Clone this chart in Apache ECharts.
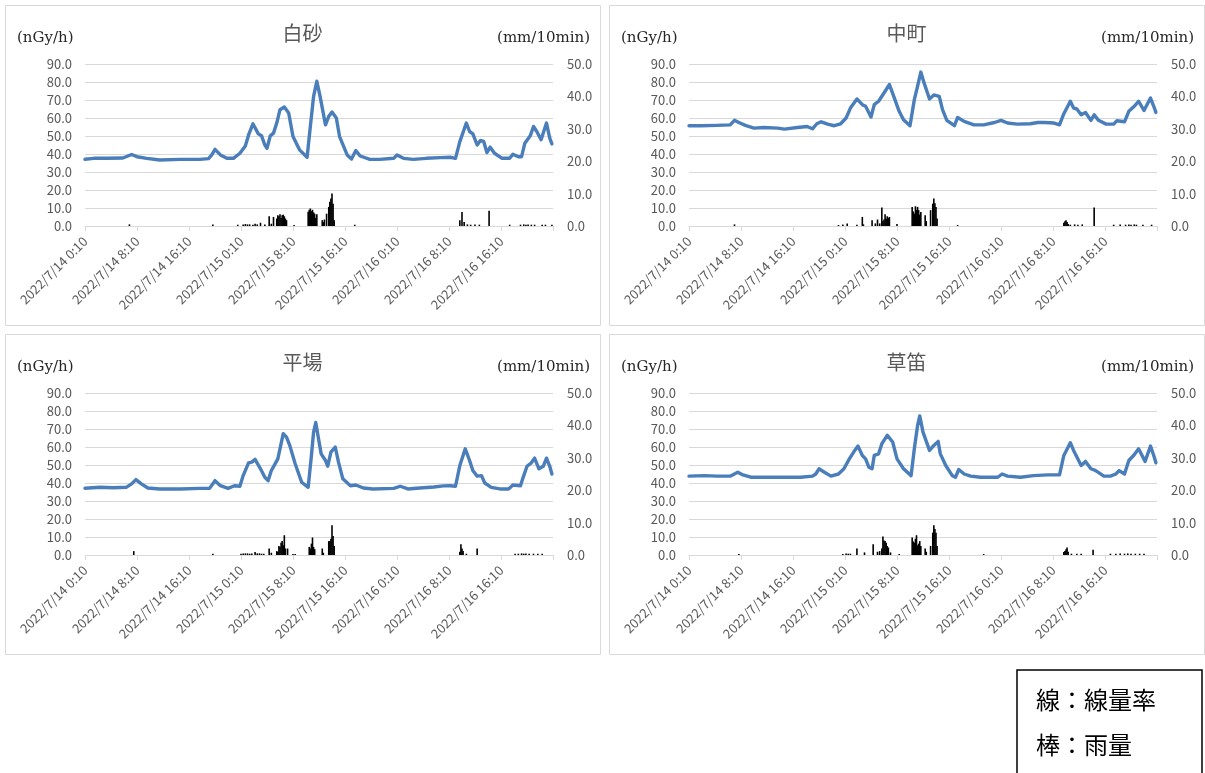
<!DOCTYPE html>
<html>
<head>
<meta charset="utf-8">
<script src="https://cdn.jsdelivr.net/npm/echarts@6.0.0/dist/echarts.min.js"></script>
<style>
  html, body { margin: 0; padding: 0; background: #fff; }
  #chart { width: 1205px; height: 773px; }
</style>
</head>
<body>
<div id="chart"></div>
<script>
// x positions are 10-minute steps counted from 2022/7/14 0:10 (432 steps = 3 days)
const STEP_COUNT = 432;
const TICK_STEP = 48; // 8 hours
const tickLabels = [
  '2022/7/14 0:10', '2022/7/14 8:10', '2022/7/14 16:10',
  '2022/7/15 0:10', '2022/7/15 8:10', '2022/7/15 16:10',
  '2022/7/16 0:10', '2022/7/16 8:10', '2022/7/16 16:10'
];
const stationNames = ['白砂', '中町', '平場', '草笛'];

// 線量率 (nGy/h): [step, value]
const shirasunaDose = [[0,37.1],[8,37.6],[20,37.6],[35,37.8],[43,39.7],[48,38.5],[57,37.6],[69,36.7],[88,37.0],[106,37.0],[114,37.4],[117,39.5],[120,42.6],[125,39.5],[131,37.6],[137,37.6],[143,40.4],[148,44.5],[151,50.6],[155,56.8],[160,51.2],[163,50.1],[166,45.0],[168,43.2],[171,50.1],[174,51.6],[177,57.2],[180,64.6],[184,66.1],[188,62.8],[192,49.7],[198,42.3],[205,38.2],[208,55.3],[211,72.0],[214,80.4],[217,72.0],[222,56.2],[225,60.9],[228,63.3],[232,60.0],[235,49.7],[242,39.5],[246,37.2],[250,41.9],[254,38.9],[263,37.0],[272,37.0],[285,37.6],[288,39.5],[294,37.6],[303,37.0],[315,37.6],[328,38.0],[337,38.2],[342,37.6],[343,38.5],[346,46.9],[352,57.2],[355,52.5],[358,51.2],[362,45.0],[365,47.5],[368,47.0],[371,40.8],[374,43.8],[378,40.4],[385,37.6],[392,37.6],[395,39.9],[400,38.5],[403,38.5],[406,46.0],[411,50.1],[414,55.3],[417,52.5],[421,47.9],[426,57.2],[429,48.8],[431,45.6]];
const nakamachiDose = [[0,55.7],[11,55.7],[26,55.9],[38,56.2],[42,58.7],[46,57.5],[52,55.9],[60,54.4],[69,54.7],[82,54.4],[88,53.8],[100,54.7],[109,55.3],[114,54.0],[118,56.8],[122,57.9],[128,56.6],[134,55.7],[140,56.8],[145,60.0],[149,65.5],[155,70.6],[160,67.4],[163,66.5],[168,60.5],[171,67.4],[175,69.3],[180,73.9],[185,78.6],[189,72.0],[194,63.7],[198,59.0],[204,55.7],[208,70.2],[211,77.7],[214,85.5],[217,79.5],[222,70.6],[226,72.8],[231,72.0],[234,64.6],[238,58.7],[245,55.7],[248,60.3],[254,58.1],[263,56.2],[272,56.2],[282,57.5],[288,58.7],[294,57.2],[303,56.6],[315,56.8],[322,57.5],[328,57.5],[337,57.2],[342,56.2],[346,62.4],[352,69.3],[355,65.5],[358,65.0],[362,61.8],[366,63.1],[371,58.7],[374,61.8],[378,58.7],[385,56.6],[392,56.6],[395,58.5],[402,57.9],[406,63.7],[411,66.5],[415,69.3],[420,64.2],[426,71.1],[429,66.5],[431,63.1]];
const hirabaDose = [[0,37.1],[14,37.6],[26,37.4],[38,37.6],[43,39.5],[47,41.9],[52,39.5],[58,37.2],[69,36.7],[88,36.7],[106,37.0],[115,37.0],[120,41.3],[125,38.5],[132,37.0],[138,38.5],[143,38.2],[146,44.1],[151,51.2],[154,51.6],[157,53.1],[162,47.9],[166,43.2],[169,41.3],[172,46.9],[178,53.4],[183,67.4],[186,65.5],[189,60.9],[194,50.7],[200,40.4],[206,37.6],[209,55.3],[211,68.3],[213,73.6],[215,66.5],[218,56.2],[222,52.5],[224,49.3],[227,57.2],[231,60.0],[234,51.6],[238,42.3],[245,38.5],[250,38.9],[257,37.2],[266,36.7],[285,37.0],[291,38.2],[298,36.7],[309,37.2],[322,37.8],[331,38.4],[337,38.5],[342,38.2],[346,49.7],[351,59.0],[355,52.5],[358,46.9],[362,43.8],[366,44.1],[369,40.0],[375,37.6],[383,36.7],[391,36.7],[395,38.9],[402,38.5],[404,42.3],[408,49.3],[412,51.2],[415,53.8],[419,47.9],[423,49.3],[426,53.8],[429,49.3],[431,45.0]];
const kusabueDose = [[0,43.8],[14,44.1],[26,43.8],[38,43.8],[45,46.0],[49,44.7],[57,43.2],[69,43.2],[88,43.2],[103,43.2],[114,43.8],[117,45.0],[120,47.9],[125,46.0],[131,43.8],[138,45.0],[143,47.9],[148,53.4],[152,57.2],[156,60.5],[160,55.3],[163,53.4],[166,48.8],[169,47.9],[171,55.3],[175,56.2],[178,61.8],[183,66.5],[188,62.8],[192,53.4],[198,47.9],[205,44.1],[208,59.0],[211,72.0],[213,77.3],[216,68.3],[222,58.1],[226,60.9],[230,63.1],[232,56.2],[237,49.7],[243,44.1],[246,43.2],[249,47.5],[254,45.0],[260,43.8],[269,43.2],[285,43.2],[289,45.0],[294,43.8],[306,43.2],[318,44.1],[331,44.5],[342,44.5],[346,55.3],[352,62.4],[355,58.1],[362,49.7],[366,52.0],[371,47.9],[375,47.0],[383,43.8],[389,43.8],[394,45.0],[397,46.9],[402,45.0],[406,52.5],[411,55.7],[415,59.0],[421,52.0],[426,60.5],[429,55.3],[431,51.2]];

// 雨量 (mm/10min): [step, value], steps without rain omitted
const shirasunaRain = [[41,0.5],[118,0.5],[141,0.4],[146,0.5],[148,0.6],[150,0.5],[152,0.5],[155,0.4],[157,0.7],[159,0.5],[162,1.0],[166,0.5],[170,3.0],[172,0.7],[174,2.8],[177,2.3],[178,3.3],[179,3.0],[180,3.6],[181,2.5],[182,3.3],[183,3.5],[184,3.0],[185,2.3],[186,1.8],[193,0.3],[206,4.4],[207,5.0],[208,5.4],[209,4.6],[210,5.0],[211,4.2],[212,3.8],[213,2.5],[214,3.6],[219,1.8],[220,1.2],[221,2.0],[223,3.8],[225,5.9],[226,7.5],[227,8.5],[228,10.0],[229,6.9],[230,1.8],[249,0.4],[346,1.8],[348,4.3],[350,1.2],[353,0.5],[356,0.4],[360,0.5],[364,0.4],[373,4.7],[392,0.4],[402,0.4],[405,0.5],[407,0.4],[409,0.5],[412,0.4],[415,0.4],[422,0.4],[425,0.4],[431,0.4]];
const nakamachiRain = [[42,0.5],[138,0.3],[142,0.5],[146,0.8],[155,0.4],[160,2.8],[161,0.5],[169,1.8],[172,0.8],[174,2.0],[176,0.8],[178,5.7],[179,1.5],[180,2.0],[181,3.6],[182,2.2],[183,3.0],[184,2.5],[185,2.8],[192,0.6],[206,5.9],[207,4.5],[208,3.8],[209,6.1],[210,5.0],[211,5.9],[212,4.9],[213,3.5],[214,4.3],[218,3.3],[219,1.5],[223,4.9],[225,6.9],[226,8.5],[227,7.0],[228,5.9],[229,2.3],[248,0.3],[346,1.0],[347,1.5],[348,1.8],[349,1.2],[350,0.6],[352,0.4],[356,0.5],[359,0.4],[363,0.5],[374,5.7],[392,0.4],[398,0.5],[403,0.4],[406,0.5],[408,0.4],[411,0.5],[413,0.4],[419,0.4],[427,0.4]];
const hirabaRain = [[45,1.2],[118,0.4],[144,0.4],[146,0.5],[148,0.5],[150,0.5],[152,0.4],[154,0.5],[157,0.9],[159,0.5],[161,0.5],[163,0.4],[165,0.4],[170,2.0],[172,0.7],[177,1.2],[178,1.0],[179,2.8],[180,2.5],[181,3.8],[182,4.3],[183,3.0],[184,6.1],[185,2.0],[187,2.0],[192,0.3],[194,0.3],[207,2.5],[208,2.0],[209,3.5],[210,5.4],[211,2.5],[212,1.8],[219,2.0],[220,0.7],[225,4.3],[226,4.3],[227,5.0],[228,9.2],[229,5.9],[230,2.8],[346,1.0],[347,3.3],[348,2.0],[349,1.2],[352,0.4],[362,2.0],[397,0.4],[400,0.4],[403,0.5],[405,0.4],[407,0.5],[410,0.4],[414,0.4],[418,0.4],[422,0.4]];
const kusabueRain = [[46,0.3],[142,0.3],[145,0.5],[147,0.4],[149,0.4],[155,2.0],[162,0.8],[170,3.3],[174,1.0],[176,1.2],[178,2.0],[179,5.7],[180,4.5],[181,4.3],[182,3.8],[183,2.8],[184,2.3],[186,0.8],[194,0.3],[206,5.4],[207,4.2],[208,3.8],[209,5.0],[210,6.1],[211,3.0],[212,3.5],[213,4.3],[214,2.8],[218,2.0],[219,1.0],[223,2.8],[225,6.9],[226,9.2],[227,8.0],[228,6.9],[229,2.8],[272,0.3],[346,0.9],[347,1.2],[348,1.8],[349,2.3],[350,1.0],[353,0.4],[358,0.4],[362,0.4],[373,1.6],[389,0.4],[394,0.4],[398,0.5],[402,0.4],[405,0.5],[408,0.4],[412,0.4],[416,0.4],[420,0.4]];

const doseSeries = [shirasunaDose, nakamachiDose, hirabaDose, kusabueDose];
const rainSeries = [shirasunaRain, nakamachiRain, hirabaRain, kusabueRain];

// panel frames (outer boxes) in page pixels
const frames = [
  { x: 5, y: 5 }, { x: 609, y: 5 }, { x: 5, y: 334 }, { x: 609, y: 334 }
];
const FRAME_W = 595, FRAME_H = 320;
const PLOT = { dx: 80, dy: 59, w: 468, h: 162 };

const LABEL_COLOR = '#595959';
const GRID_COLOR = '#d9d9d9';
const LINE_COLOR = '#4a7ebb';
const SANS = '"Noto Sans CJK JP", "Noto Sans", sans-serif';
const SERIF = '"DejaVu Serif", "Liberation Serif", serif';

const grid = [], xAxis = [], yAxis = [], series = [], graphic = [];

frames.forEach((f, i) => {
  grid.push({ left: f.x + PLOT.dx, top: f.y + PLOT.dy, width: PLOT.w, height: PLOT.h, containLabel: false });

  xAxis.push({
    type: 'value', gridIndex: i, min: 0, max: STEP_COUNT, interval: TICK_STEP,
    axisLine: { show: true, lineStyle: { color: GRID_COLOR, width: 1 } },
    axisTick: { show: true, length: 5, lineStyle: { color: GRID_COLOR } },
    splitLine: { show: false },
    axisLabel: {
      rotate: 45, margin: 13, color: LABEL_COLOR, fontSize: 13, fontFamily: SANS,
      formatter: v => tickLabels[Math.round(v / TICK_STEP)] || ''
    }
  });

  yAxis.push({
    type: 'value', gridIndex: i, min: 0, max: 90, interval: 10, position: 'left',
    axisLine: { show: false }, axisTick: { show: false },
    splitLine: { show: true, lineStyle: { color: GRID_COLOR, width: 1 } },
    axisLabel: { margin: 13, color: LABEL_COLOR, fontSize: 13, fontFamily: SANS, formatter: v => v.toFixed(1) }
  });
  yAxis.push({
    type: 'value', gridIndex: i, min: 0, max: 50, interval: 10, position: 'right',
    axisLine: { show: false }, axisTick: { show: false }, splitLine: { show: false },
    axisLabel: { margin: 14, color: LABEL_COLOR, fontSize: 13, fontFamily: SANS, formatter: v => v.toFixed(1) }
  });

  series.push({
    type: 'bar', name: '雨量', xAxisIndex: i, yAxisIndex: 2 * i + 1,
    data: rainSeries[i], barWidth: 1.6, itemStyle: { color: '#000' }, silent: true, z: 2
  });
  series.push({
    type: 'line', name: '線量率', xAxisIndex: i, yAxisIndex: 2 * i,
    data: doseSeries[i], showSymbol: false, smooth: false,
    lineStyle: { color: LINE_COLOR, width: 3.4, join: 'round', cap: 'round' }, silent: true, z: 3
  });

  graphic.push({
    type: 'rect', silent: true, z: -1,
    shape: { x: f.x + 0.5, y: f.y + 0.5, width: FRAME_W, height: FRAME_H },
    style: { fill: 'none', stroke: GRID_COLOR, lineWidth: 1 }
  });
  graphic.push({
    type: 'text', silent: true, x: f.x + FRAME_W / 2, y: f.y + 28,
    style: { text: stationNames[i], fill: LABEL_COLOR, font: '20px ' + SANS, textAlign: 'center', textVerticalAlign: 'middle' }
  });
  graphic.push({
    type: 'text', silent: true, x: f.x + 12, y: f.y + 33,
    style: { text: '(nGy/h)', fill: '#262626', font: '15px ' + SERIF, textAlign: 'left', textVerticalAlign: 'middle' }
  });
  graphic.push({
    type: 'text', silent: true, x: f.x + 585, y: f.y + 33,
    style: { text: '(mm/10min)', fill: '#262626', font: '15px ' + SERIF, textAlign: 'right', textVerticalAlign: 'middle' }
  });
});

// key box: 線 = dose rate line, 棒 = rainfall bars
graphic.push({
  type: 'rect', silent: true,
  shape: { x: 1017, y: 670, width: 185, height: 110 },
  style: { fill: '#fff', stroke: '#000', lineWidth: 1.5 }
});
graphic.push({
  type: 'text', silent: true, x: 1036, y: 700,
  style: { text: '線：線量率', fill: '#000', font: '24px ' + SANS, textAlign: 'left', textVerticalAlign: 'middle' }
});
graphic.push({
  type: 'text', silent: true, x: 1036, y: 745,
  style: { text: '棒：雨量', fill: '#000', font: '24px ' + SANS, textAlign: 'left', textVerticalAlign: 'middle' }
});

const chart = echarts.init(document.getElementById('chart'), null, { renderer: 'canvas' });
chart.setOption({
  animation: false,
  backgroundColor: '#fff',
  grid, xAxis, yAxis, series, graphic
});
</script>
</body>
</html>
